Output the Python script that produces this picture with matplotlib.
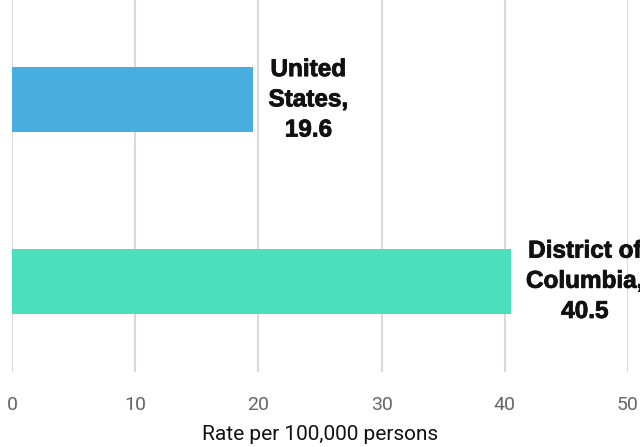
import matplotlib.pyplot as plt
import matplotlib.patheffects as pe

# datos
regiones = ['District of\nColumbia,\n40.5', 'United\nStates,\n19.6']
tasas = [40.5, 19.6]
colores = ['#4BE0BC', '#47AEDF']
ticks = [0, 10, 20, 30, 40, 50]

plt.rcParams['font.family'] = ['Roboto', 'DejaVu Sans']

fig = plt.figure(figsize=(6.4, 4.47), dpi=100)
ax = fig.add_axes([12 / 640, 1 - 372 / 447, 616 / 640, 372 / 447])

pos = list(range(len(tasas)))
ax.barh(pos, tasas, height=0.36, color=colores, zorder=2)

# etiquetas a la derecha de cada barra
for y, v, txt in zip(pos, tasas, regiones):
    ax.annotate(txt, xy=(v, y), xytext=(15, 0), textcoords='offset pixels',
                ha='left', va='center', multialignment='center',
                fontsize=17.5, fontweight='bold', color='#111111',
                family=['Liberation Sans', 'DejaVu Sans'],
                linespacing=1.4, annotation_clip=False, zorder=3,
                path_effects=[pe.withStroke(linewidth=0.6, foreground='#111111')])

ax.set_xlim(0, 50)
ax.set_ylim(-0.5, 1.55)
ax.set_xticks(ticks)
ax.set_yticks([])
ax.grid(axis='x', color='#d9d9d9', linewidth=1.5, zorder=0)
for s in ax.spines.values():
    s.set_visible(False)
ax.tick_params(axis='x', length=0, pad=17, labelsize=14, labelcolor='#666666')
ax.set_xlabel('Rate per 100,000 persons', fontsize=15, color='#111111', labelpad=8)

fig.savefig('out.png', dpi=100)
